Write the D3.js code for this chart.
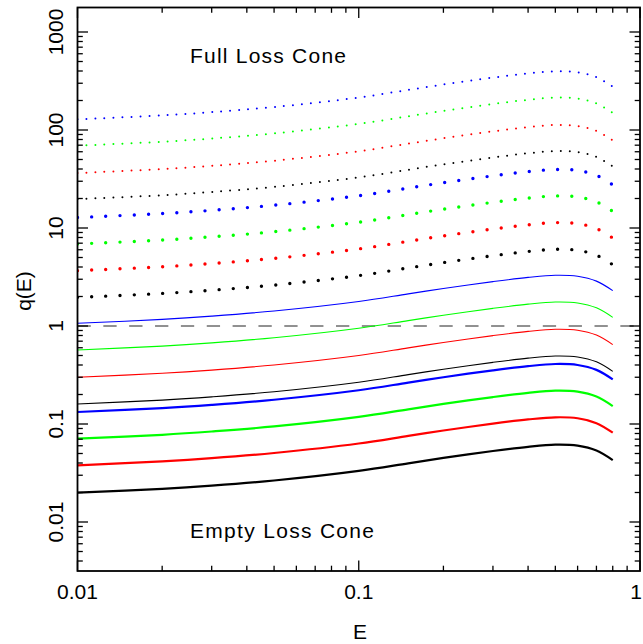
<!DOCTYPE html>
<html>
<head>
<meta charset="utf-8">
<script src="https://cdn.jsdelivr.net/npm/d3@7"></script>
<style>
  html, body { margin: 0; padding: 0; background: #fff; }
  svg { display: block; }
  text { font-family: "Liberation Sans", Arial, sans-serif; fill: #000; }
</style>
</head>
<body>
<svg id="chart" width="643" height="644"></svg>
<script>
// ---- data ----
const E = [0.01, 0.02, 0.03, 0.05, 0.1, 0.15, 0.2, 0.3, 0.4, 0.5, 0.6, 0.7, 0.8];

// thick solid
const qThickBlack = [0.0199, 0.0218, 0.0235, 0.0265, 0.0332, 0.0397, 0.0451, 0.0530, 0.0585, 0.0615, 0.0601, 0.0536, 0.0428];
const qThickRed   = [0.0379, 0.0416, 0.0448, 0.0506, 0.0632, 0.0756, 0.0858, 0.1009, 0.1113, 0.1171, 0.1145, 0.1020, 0.0816];
const qThickGreen = [0.0708, 0.0776, 0.0838, 0.0944, 0.1180, 0.1412, 0.1604, 0.1884, 0.2080, 0.2188, 0.2138, 0.1906, 0.1524];
const qThickBlue  = [0.1325, 0.1453, 0.1568, 0.1768, 0.2209, 0.2643, 0.3001, 0.3526, 0.3893, 0.4094, 0.4002, 0.3567, 0.2853];
// thin solid
const qThinBlack  = [0.160, 0.1754, 0.1893, 0.2134, 0.2667, 0.3192, 0.3624, 0.4258, 0.4701, 0.4944, 0.4832, 0.4307, 0.3445];
const qThinRed    = [0.300, 0.3290, 0.3549, 0.4002, 0.5001, 0.5985, 0.6795, 0.7983, 0.8814, 0.927, 0.906, 0.8076, 0.6459];
const qThinGreen  = [0.569, 0.6239, 0.6731, 0.7590, 0.9485, 1.1352, 1.2888, 1.5141, 1.6717, 1.7582, 1.7184, 1.5317, 1.2251];
const qThinBlue   = [1.066, 1.1689, 1.2611, 1.4220, 1.7770, 2.1267, 2.4145, 2.8366, 3.1319, 3.2939, 3.2193, 2.8697, 2.2951];
// thick dotted
const qDotBlack   = [1.96, 2.149, 2.319, 2.6146, 3.2673, 3.9102, 4.4394, 5.2156, 5.7585, 6.0564, 5.9192, 5.2763, 4.2199];
const qDotRed     = [3.67, 4.024, 4.342, 4.896, 6.118, 7.322, 8.313, 9.766, 10.78, 11.34, 11.08, 9.880, 7.902];
const qDotGreen   = [6.87, 7.533, 8.127, 9.165, 11.45, 13.71, 15.56, 18.28, 20.18, 21.23, 20.75, 18.49, 14.79];
const qDotBlue    = [12.8, 14.04, 15.14, 17.08, 21.34, 25.54, 28.99, 34.06, 37.61, 39.55, 38.66, 34.46, 27.56];
// thin dotted
const qFineBlack  = [19.7, 21.60, 23.31, 26.28, 32.84, 39.30, 44.62, 52.42, 57.88, 60.87, 59.49, 53.03, 42.41];
const qFineRed    = [36.4, 39.91, 43.06, 48.56, 60.68, 72.62, 82.45, 96.86, 106.9, 112.5, 109.9, 97.99, 78.37];
const qFineGreen  = [69.2, 75.88, 81.86, 92.31, 115.4, 138.1, 156.7, 184.1, 203.3, 213.8, 209.0, 186.3, 149.0];
const qFineBlue   = [128.6, 141.0, 152.1, 171.6, 214.4, 256.6, 291.3, 342.2, 377.8, 397.4, 388.4, 346.2, 276.9];

const xTickLabels = ["0.01", "0.1", "1"];
const yTickLabels = ["0.01", "0.1", "1", "10", "100", "1000"];
const annotations = ["Full Loss Cone", "Empty Loss Cone"];

// ---- styles (kept separate from data) ----
const styles = {
  thickSolid:  { width: 2.2, dash: null, cap: "butt" },
  thinSolid:   { width: 1.1, dash: null, cap: "butt" },
  thickDotted: { width: 3.4, dash: "0,14.2", cap: "round" },
  thinDotted:  { width: 2.0, dash: "0,9", cap: "round" }
};
const series = [
  { q: qThickBlack, color: "#000000", style: "thickSolid" },
  { q: qThickRed,   color: "#ff0000", style: "thickSolid" },
  { q: qThickGreen, color: "#00ff00", style: "thickSolid" },
  { q: qThickBlue,  color: "#0000ff", style: "thickSolid" },
  { q: qThinBlack,  color: "#000000", style: "thinSolid" },
  { q: qThinRed,    color: "#ff0000", style: "thinSolid" },
  { q: qThinGreen,  color: "#00ff00", style: "thinSolid" },
  { q: qThinBlue,   color: "#0000ff", style: "thinSolid" },
  { q: qDotBlack,   color: "#000000", style: "thickDotted" },
  { q: qDotRed,     color: "#ff0000", style: "thickDotted" },
  { q: qDotGreen,   color: "#00ff00", style: "thickDotted" },
  { q: qDotBlue,    color: "#0000ff", style: "thickDotted" },
  { q: qFineBlack,  color: "#000000", style: "thinDotted" },
  { q: qFineRed,    color: "#ff0000", style: "thinDotted" },
  { q: qFineGreen,  color: "#00ff00", style: "thinDotted" },
  { q: qFineBlue,   color: "#0000ff", style: "thinDotted" }
];

// ---- layout ----
const L = 77.5, R = 640, T = 7.5, B = 571;
const svg = d3.select("#chart");

const x = d3.scaleLog().domain([0.01, 1]).range([L, R]);
const y = d3.scaleLog().domain([Math.pow(10, -2.5), Math.pow(10, 3.25)]).range([B, T]);

// clip
svg.append("defs").append("clipPath").attr("id", "plotclip")
  .append("rect").attr("x", L).attr("y", T).attr("width", R - L).attr("height", B - T);

const plot = svg.append("g").attr("clip-path", "url(#plotclip)");

// dashed reference line at q = 1
plot.append("line")
  .attr("x1", x(0.01)).attr("x2", x(1))
  .attr("y1", y(1)).attr("y2", y(1))
  .attr("stroke", "#222").attr("stroke-width", 1)
  .attr("stroke-dasharray", "13.3,12.55");

const line = d3.line()
  .x((d, i) => x(E[i]))
  .y(d => y(d))
  .curve(d3.curveCatmullRom.alpha(0.5));

series.forEach(s => {
  const st = styles[s.style];
  const p = plot.append("path")
    .attr("d", line(s.q))
    .attr("fill", "none")
    .attr("stroke", s.color)
    .attr("stroke-width", st.width)
    .attr("stroke-linecap", st.cap)
    .attr("stroke-linejoin", "round");
  if (st.dash) p.attr("stroke-dasharray", st.dash);
});

// ---- axes: frame + ticks on all 4 sides ----
const axisG = svg.append("g");
const majorLen = 10.5, minorLen = 5.3;

const xMajor = [0.01, 0.1, 1];
const xMinor = [];
[0.01, 0.1].forEach(b => { for (let k = 2; k <= 9; k++) xMinor.push(b * k); });
const yMajor = [0.01, 0.1, 1, 10, 100, 1000];
const yMinor = [];
[0.001, 0.01, 0.1, 1, 10, 100].forEach(b => {
  for (let k = 2; k <= 9; k++) {
    const v = b * k;
    if (v > y.domain()[0] && v < y.domain()[1]) yMinor.push(v);
  }
});

function tick(x1, y1, x2, y2) {
  axisG.append("line").attr("x1", x1).attr("y1", y1).attr("x2", x2).attr("y2", y2)
    .attr("stroke", "#000").attr("stroke-width", 1.3);
}
xMajor.forEach(v => { tick(x(v), B, x(v), B - majorLen); tick(x(v), T, x(v), T + majorLen); });
xMinor.forEach(v => { tick(x(v), B, x(v), B - minorLen); tick(x(v), T, x(v), T + minorLen); });
yMajor.forEach(v => { tick(L, y(v), L + majorLen, y(v)); tick(R, y(v), R - majorLen, y(v)); });
yMinor.forEach(v => { tick(L, y(v), L + minorLen, y(v)); tick(R, y(v), R - minorLen, y(v)); });

axisG.append("rect")
  .attr("x", L).attr("y", T).attr("width", R - L).attr("height", B - T)
  .attr("fill", "none").attr("stroke", "#000").attr("stroke-width", 1.8);

// tick labels
const fs = 21;
xMajor.forEach((v, i) => {
  const xp = Math.min(x(v), 636);
  svg.append("text").attr("x", xp).attr("y", 598.5)
    .attr("text-anchor", "middle").attr("font-size", fs)
    .text(xTickLabels[i]);
});
yMajor.forEach((v, i) => {
  svg.append("text")
    .attr("transform", `translate(62.7,${y(v)}) rotate(-90)`)
    .attr("text-anchor", "middle").attr("font-size", fs)
    .text(yTickLabels[i]);
});

// axis titles
svg.append("text").attr("x", 360).attr("y", 639)
  .attr("text-anchor", "middle").attr("font-size", fs).text("E");
svg.append("text")
  .attr("transform", "translate(31,291) rotate(-90)")
  .attr("text-anchor", "middle").attr("font-size", fs).text("q(E)");

// annotations
svg.append("text").attr("x", 190).attr("y", 63.3).attr("font-size", fs)
  .attr("textLength", 156).attr("lengthAdjust", "spacing").text(annotations[0]);
svg.append("text").attr("x", 190).attr("y", 538.3).attr("font-size", fs)
  .attr("textLength", 184).attr("lengthAdjust", "spacing").text(annotations[1]);
</script>
</body>
</html>
